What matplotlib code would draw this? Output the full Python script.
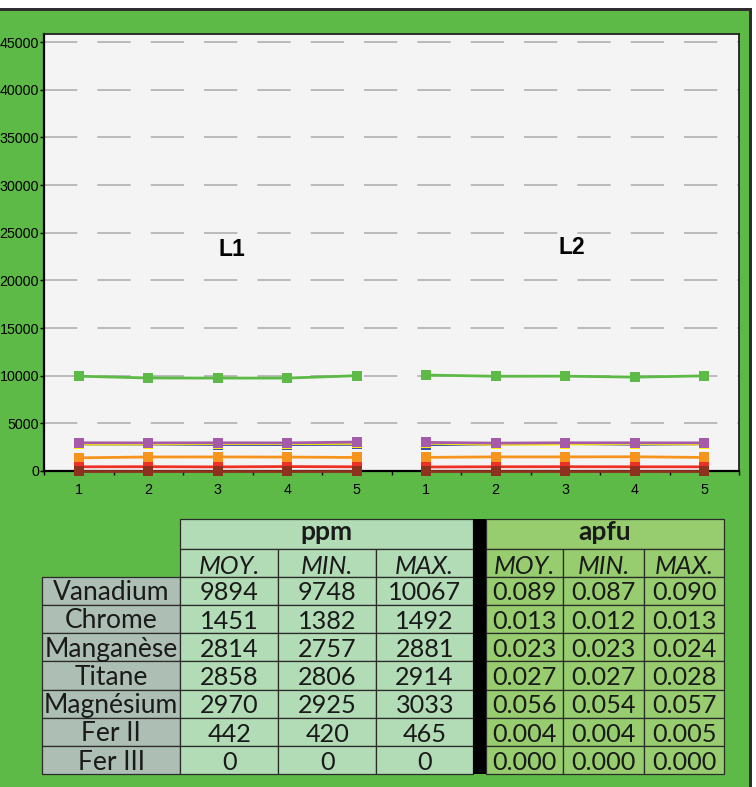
import matplotlib
matplotlib.use('Agg')
import matplotlib.pyplot as plt
from matplotlib.patches import Rectangle
from matplotlib.ticker import FixedLocator, NullFormatter

plt.rcParams['lines.scale_dashes'] = False

# ---------------- data ----------------
elements = ['Vanadium', 'Chrome', 'Manganèse', 'Titane', 'Magnésium', 'Fer II', 'Fer III']
ppm_moy = [9894, 1451, 2814, 2858, 2970, 442, 0]
ppm_min = [9748, 1382, 2757, 2806, 2925, 420, 0]
ppm_max = [10067, 1492, 2881, 2914, 3033, 465, 0]
apfu_moy = ['0.089', '0.013', '0.023', '0.027', '0.056', '0.004', '0.000']
apfu_min = ['0.087', '0.012', '0.023', '0.027', '0.054', '0.004', '0.000']
apfu_max = ['0.090', '0.013', '0.024', '0.028', '0.057', '0.005', '0.000']

point_labels = ['1', '2', '3', '4', '5']
profiles = ['L1', 'L2']

# per-point ppm values, profile L1 and L2
L1_vanadium = [9950, 9760, 9750, 9748, 10000]
L2_vanadium = [10067, 9940, 9950, 9850, 9980]
L1_chrome = [1382, 1470, 1475, 1460, 1420]
L2_chrome = [1430, 1480, 1480, 1492, 1420]
L1_manganese = [2830, 2820, 2780, 2770, 2790]
L2_manganese = [2757, 2830, 2881, 2800, 2850]
L1_titane = [2830, 2840, 2880, 2870, 2900]
L2_titane = [2914, 2806, 2830, 2870, 2840]
L1_magnesium = [2960, 2950, 2960, 2950, 3033]
L2_magnesium = [3000, 2925, 2960, 2955, 2950]
L1_fer2 = [440, 450, 430, 465, 440]
L2_fer2 = [420, 445, 450, 440, 440]
L1_fer3 = [0, 0, 0, 0, 0]
L2_fer3 = [0, 0, 0, 0, 0]

series_L1 = [L1_vanadium, L1_chrome, L1_manganese, L1_titane, L1_magnesium, L1_fer2, L1_fer3]
series_L2 = [L2_vanadium, L2_chrome, L2_manganese, L2_titane, L2_magnesium, L2_fer2, L2_fer3]
series_colors = ['#5dba47', '#f7941e', '#3a53a4', '#fff200', '#a55ba7', '#ee3124', '#8d321f']

# ---------------- styles ----------------
GREEN = '#5dba47'
W, H = 756, 787
fig = plt.figure(figsize=(W / 100, H / 100), dpi=100, facecolor=GREEN)

# background / frame / table axes in pixel coordinates
bg = fig.add_axes([0, 0, 1, 1], zorder=0)
bg.set_xlim(0, W)
bg.set_ylim(H, 0)
bg.axis('off')
bg.add_patch(Rectangle((0, 0), W, 8, facecolor='white', edgecolor='none'))
bg.add_patch(Rectangle((0, 8), 752, 2.5, facecolor='#2e2e2e', edgecolor='none'))
bg.add_patch(Rectangle((752, 0), 4, H, facecolor='white', edgecolor='none'))
bg.add_patch(Rectangle((749, 8), 3, H - 8, facecolor='#2e2e2e', edgecolor='none'))

# ---------------- chart ----------------
ax = fig.add_axes([44 / W, 1 - 471 / H, (739 - 44) / W, (471 - 34) / H], zorder=2)
ax.set_facecolor('#f4f4f4')
n = len(point_labels)
x1 = list(range(n))
x2 = list(range(n, 2 * n))
for vals1, vals2, col in zip(series_L1, series_L2, series_colors):
    for xs, vals in ((x1, vals1), (x2, vals2)):
        ax.plot(xs, vals, color=col, lw=2.0, marker='s', markersize=6.6,
                markeredgewidth=0, clip_on=False, zorder=3)

ax.set_xlim(-0.5, 2 * n - 0.5)
ax.set_ylim(0, 45850)
ax.set_yticks(range(0, 45001, 5000))
ax.set_yticklabels([str(v) for v in range(0, 45001, 5000)],
                   fontfamily='Liberation Sans', fontsize=10.3)
ax.yaxis.grid(True, color='#aaaaaa', lw=1.1, linestyle=(0, (24, 14.4)), zorder=1)
ax.set_axisbelow(True)
ax.tick_params(axis='y', length=3, width=1, pad=0.5, color='black')

ax.set_xticks(x1 + x2)
ax.set_xticklabels(point_labels * 2, fontfamily='Liberation Sans', fontsize=10.3)
ax.xaxis.set_minor_locator(FixedLocator([i - 0.5 for i in range(2 * n + 1)]))
ax.xaxis.set_minor_formatter(NullFormatter())
ax.tick_params(axis='x', which='major', length=0, pad=9)
ax.tick_params(axis='x', which='minor', length=3, width=1, color='black')

for s in ['top', 'right']:
    ax.spines[s].set_color('#222222')
    ax.spines[s].set_linewidth(1.3)
for s in ['left', 'bottom']:
    ax.spines[s].set_color('black')
    ax.spines[s].set_linewidth(1.6)

ax.text(2.2, 23200, profiles[0], fontfamily='Liberation Sans', fontweight='bold',
        fontsize=16.5, ha='center', va='center')
ax.text(7.1, 23400, profiles[1], fontfamily='Liberation Sans', fontweight='bold',
        fontsize=16.5, ha='center', va='center')

# ---------------- table ----------------
col_edges = [42, 180, 278.3, 376, 473.3, 485.7, 562.7, 644.3, 724.3]
head_edges = [519, 549, 576.5]
row_h = 28.25
row_edges = [head_edges[-1] + i * row_h for i in range(len(elements) + 1)]
C_PPM = '#b2dcb5'
C_APFU = '#97cd6e'
C_LAB = '#adbfb4'
EC = '#2b2b2b'
LW = 0.9
FONT = 'Lato'
FS = 19
FS_NUM = 18.2

def cell(x0, x1_, y0, y1, fc):
    bg.add_patch(Rectangle((x0, y0), x1_ - x0, y1 - y0, facecolor=fc,
                           edgecolor=EC, linewidth=LW, zorder=1))

def txt(x, y, s, size=FS, **kw):
    bg.text(x, y, s, ha='center', va='baseline', fontfamily=FONT, fontsize=size,
            color='#1a1a1a', zorder=3, **kw)

# group headers
cell(col_edges[1], col_edges[4], head_edges[0], head_edges[1], C_PPM)
cell(col_edges[5], col_edges[8], head_edges[0], head_edges[1], C_APFU)
txt((col_edges[1] + col_edges[4]) / 2, head_edges[0] + 21, 'ppm', fontweight='bold')
txt((col_edges[5] + col_edges[8]) / 2, head_edges[0] + 21, 'apfu', fontweight='bold')

sub_headers = ['MOY.', 'MIN.', 'MAX.']
ppm_cols = [1, 2, 3]
apfu_cols = [5, 6, 7]
for j, lab in enumerate(sub_headers):
    for cols, fc in ((ppm_cols, C_PPM), (apfu_cols, C_APFU)):
        c = cols[j]
        cell(col_edges[c], col_edges[c + 1], head_edges[1], head_edges[2], fc)
        txt((col_edges[c] + col_edges[c + 1]) / 2, head_edges[1] + 24.5, lab,
            size=FS_NUM, style='italic')

ppm_table = [ppm_moy, ppm_min, ppm_max]
apfu_table = [apfu_moy, apfu_min, apfu_max]
for i, el in enumerate(elements):
    y0, y1 = row_edges[i], row_edges[i + 1]
    cell(col_edges[0], col_edges[1], y0, y1, C_LAB)
    txt((col_edges[0] + col_edges[1]) / 2, y0 + 23.5, el)
    for j in range(3):
        c = ppm_cols[j]
        cell(col_edges[c], col_edges[c + 1], y0, y1, C_PPM)
        txt((col_edges[c] + col_edges[c + 1]) / 2, y0 + 23.8, str(ppm_table[j][i]), size=FS_NUM)
        c = apfu_cols[j]
        cell(col_edges[c], col_edges[c + 1], y0, y1, C_APFU)
        txt((col_edges[c] + col_edges[c + 1]) / 2, y0 + 23.8, apfu_table[j][i], size=FS_NUM)

# black separator between ppm and apfu blocks
bg.add_patch(Rectangle((col_edges[4], head_edges[0]), col_edges[5] - col_edges[4],
                       row_edges[-1] - head_edges[0], facecolor='black',
                       edgecolor='none', zorder=2))

fig.savefig('out.png', dpi=100, facecolor=GREEN)
